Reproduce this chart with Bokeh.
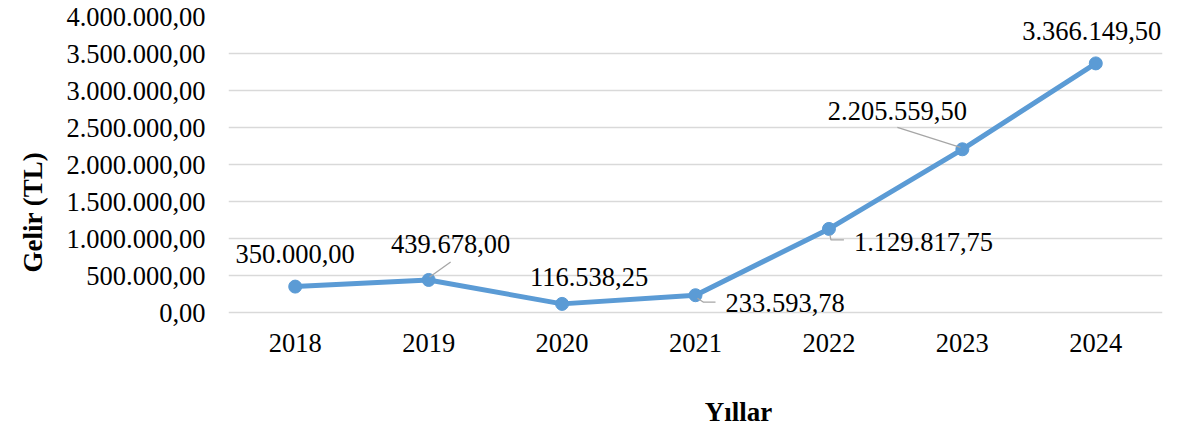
from bokeh.plotting import figure
from bokeh.models import ColumnDataSource, FactorRange, FixedTicker, Title, Label
from bokeh.core.properties import value
from bokeh.embed import file_html
from bokeh.resources import INLINE

# ---- data ----
years = ["2018", "2019", "2020", "2021", "2022", "2023", "2024"]
income = [350000.00, 439678.00, 116538.25, 233593.78, 1129817.75, 2205559.50, 3366149.50]
y_ticks = [0, 500000, 1000000, 1500000, 2000000, 2500000, 3000000, 3500000, 4000000]
y_tick_labels = ["0,00", "500.000,00", "1.000.000,00", "1.500.000,00", "2.000.000,00",
                 "2.500.000,00", "3.000.000,00", "3.500.000,00", "4.000.000,00"]
y_title = "Gelir (TL)"
x_title = "Yıllar"


def tr_fmt(v):
    return f"{v:,.2f}".replace(",", "X").replace(".", ",").replace("X", ".")


labels = [tr_fmt(v) for v in income]

# ---- styles (pixel offsets of labels relative to points; screen y down) ----
lab_dx = [0, 22, 27, 30, 25, -65, -4]
lab_dy = [-33, -36, -27, 8, 13, -38, -32]
lab_align = ["center", "center", "center", "left", "left", "center", "center"]
# leader line paths in pixel offsets from point
leaders = {
    1: [(1, -3), (22, -18)],
    3: [(2, 3), (8, 7), (20, 7)],
    4: [(1, 6), (2, 11), (15, 11)],
    5: [(-2, -2), (-65, -22)],
}

W, H = 1180, 426
ML, MR, MT = 228, 18, 16
PLOT_H = 296               # px between 0 and 4.000.000
BELOW = H - MT - PLOT_H    # px of frame below the zero line
YMAX = 4000000
FW = W - ML - MR
XPX = FW / len(years)      # px per category
YPX = PLOT_H / YMAX        # px per unit

SERIF = "Liberation Serif"
BLUE = "#5B9BD5"
FS = "26.5px"

p = figure(width=W, height=H, x_range=FactorRange(*years, range_padding=0),
           y_range=(-BELOW / YPX, YMAX), output_backend="svg", toolbar_location=None,
           min_border_left=ML, min_border_right=MR, min_border_top=MT,
           min_border_bottom=0)
p.outline_line_color = None
p.background_fill_color = "white"
p.border_fill_color = "white"

p.xgrid.grid_line_color = None
p.ygrid.grid_line_color = "#d9d9d9"
p.ygrid.grid_line_width = 1.3
p.yaxis.ticker = FixedTicker(ticks=y_ticks)
p.yaxis.major_label_overrides = {t: l for t, l in zip(y_ticks, y_tick_labels)}
p.xaxis.fixed_location = 0

for ax in (p.xaxis, p.yaxis):
    ax.axis_line_color = None
    ax.major_tick_line_color = None
    ax.minor_tick_line_color = None
    ax.major_label_text_font = SERIF
    ax.major_label_text_font_size = FS
    ax.major_label_text_color = "#000000"
p.yaxis.major_label_standoff = 17
p.xaxis.major_label_standoff = 15

src = ColumnDataSource(dict(x=years, y=income, label=labels, dx=lab_dx,
                            dy=lab_dy, align=lab_align))
p.line("x", "y", source=src, line_color=BLUE, line_width=5)
p.scatter("x", "y", source=src, size=13, fill_color=BLUE, line_color=BLUE)

# leader lines
lx, ly = [], []
for i, path in leaders.items():
    cx = i + 0.5
    cy = income[i]
    lx.append([cx + dx / XPX for dx, dy in path])
    ly.append([cy - dy / YPX for dx, dy in path])
p.multi_line(lx, ly, line_color="#a6a6a6", line_width=1.3)

p.text("x", "y", text="label", source=src, x_offset="dx", y_offset="dy",
       text_align="align", text_baseline="middle",
       text_font=value(SERIF), text_font_size=FS, text_color="#000000")

# axis titles
p.add_layout(Title(text=y_title, align="left", offset=154, standoff=27,
                   vertical_align="top",
                   text_font=SERIF, text_font_size="27px", text_font_style="bold",
                   text_color="#000000"), "left")
p.add_layout(Label(x=(738 - ML) / XPX, y=-(411 - MT - PLOT_H) / YPX, text=x_title,
                   text_align="center", text_baseline="middle",
                   text_font=SERIF, text_font_size="27px", text_font_style="bold",
                   text_color="#000000"))

open("out.html", "w").write(file_html(p, INLINE))
